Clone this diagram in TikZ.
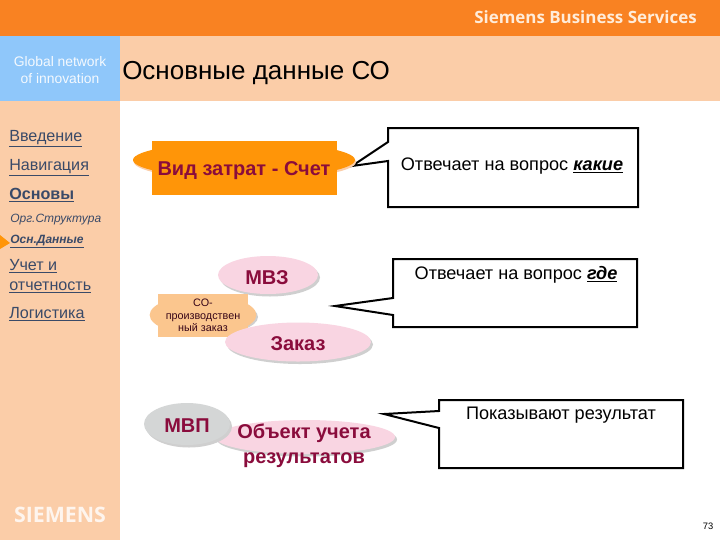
\documentclass[tikz,border=0pt]{standalone}
\usepackage{fontspec}
\setmainfont{Liberation Sans}
\newfontfamily\opensans{Open Sans}
\usetikzlibrary{shapes.geometric}
\definecolor{topor}{HTML}{F98222}
\definecolor{peach}{HTML}{FBCDA8}
\definecolor{bluep}{HTML}{8FC7FA}
\definecolor{orbox}{HTML}{FF9508}
\definecolor{wine}{HTML}{8A0C3C}
\definecolor{pinkf}{HTML}{F9D5E2}
\definecolor{shadowg}{HTML}{CFCFCF}
\definecolor{grayf}{HTML}{D4D6D6}
\definecolor{cofill}{HTML}{FBC68E}
\definecolor{navt}{HTML}{3A4A68}
\tikzset{
  px/.style={x=0.75pt,y=-0.75pt},
  blob/.style={ellipse,inner sep=0pt,draw=none,fill=#1},
  plab/.style={text=wine,font=\fontsize{15}{18}\selectfont\bfseries,inner sep=0pt,align=center},
  nav/.style={anchor=base west,inner sep=0pt,text=navt,font=\fontsize{12.1}{14}\selectfont},
  navsm/.style={anchor=base west,inner sep=0pt,text=navt,font=\fontsize{9}{11}\selectfont\itshape},
  calltxt/.style={inner sep=0pt,text=black,font=\fontsize{13.6}{16}\selectfont},
  callbox/.style={draw=black,line width=1.5pt,fill=white,line join=miter}
}
\newcommand{\ul}[1]{\underline{#1}}
\newcommand{\ublob}[5]{%
  \fill[shadowg] (#1+2,#2+2.5) ellipse [x radius=#3, y radius=#4];
  \node[blob=#5,minimum width=2*0.75pt*#3,minimum height=2*0.75pt*#4] at (#1,#2) {};}
\begin{document}
\begin{tikzpicture}[px]
\useasboundingbox (0,0) rectangle (720,540);
\fill[white] (0,0) rectangle (720,540);
\fill[topor] (0,0) rectangle (720,36);
\fill[peach] (120,36) rectangle (720,101);
\fill[bluep] (0,36) rectangle (120,101);
\fill[peach] (0,101) rectangle (120,540);
\node[anchor=base east,inner sep=0pt,text=white!85!orange,font=\opensans\fontsize{12.7}{14}\selectfont\bfseries] (brand) at (697,23) {Siemens Business Services};
\node[inner sep=0pt,text=white!90!bluep,align=center,font=\fontsize{10.4}{12}\selectfont] (gni) at (60,70) {Global network\\[1pt]of innovation};
\node[anchor=base west,inner sep=0pt,font=\fontsize{19.5}{22}\selectfont] (title) at (122,79) {Основные данные СО};
\node[nav] (n1) at (9,141) {\ul{Введение}};
\node[nav] (n2) at (9,170) {\ul{Навигация}};
\node[nav,font=\fontsize{12.1}{14}\selectfont\bfseries] (n3) at (9,199) {\ul{Основы}};
\node[navsm] (n4) at (10,222) {Орг.Структура};
\node[navsm,font=\fontsize{9}{11}\selectfont\itshape\bfseries] (n5) at (10,243) {\ul{Осн.Данные}};
\fill[orbox] (0,235) -- (10,243) -- (0,249) -- cycle;
\node[nav] (n6) at (9,270) {\ul{Учет и}};
\node[nav] (n7) at (9,290) {\ul{отчетность}};
\node[nav] (n8) at (9,318) {\ul{Логистика}};
\node[anchor=base,inner sep=0pt,text=white!80!peach,font=\opensans\fontsize{16}{18}\selectfont\bfseries] (logo) at (60,522) {SIEMENS};
% callouts
\draw[callbox] (388,128) -- (638,128) -- (638,207) -- (388,207) -- (388,161) -- (352,166) -- (388,142) -- cycle;
\node[calltxt] (c1) at (512,166) {Отвечает на вопрос \textbf{\textit{\ul{какие}}}};
\draw[callbox] (393,259) -- (637,259) -- (637,327) -- (393,327) -- (393,315) -- (335,306) -- (393,298) -- cycle;
\node[calltxt] (c2) at (516,275) {Отвечает на вопрос \textbf{\textit{\ul{где}}}};
\draw[callbox] (439,400) -- (683,400) -- (683,468) -- (439,468) -- (439,428) -- (384,414) -- (439,411) -- cycle;
\node[calltxt] (c3) at (561,415) {Показывают результат};
% orange
\fill[peach] (245,162) ellipse [x radius=111, y radius=18];
\node[blob=orbox,minimum width=166.5pt,minimum height=27pt] (ore) at (244,160) {};
\node[fill=orbox,inner sep=0pt,minimum width=138.75pt,minimum height=40.5pt] (orr) at (244.5,168) {};
\node[plab,font=\fontsize{15}{18}\selectfont\bfseries] (vz) at (244,170.5) {Вид затрат - Счет};
% pink
\ublob{268}{275}{50}{19}{pinkf}
\node[plab] (mvz) at (267,278) {МВЗ};
\fill[shadowg] (205,317) ellipse [x radius=53, y radius=18];
\node[blob=cofill,minimum width=80pt,minimum height=30pt] (coe) at (203,315) {};
\node[fill=cofill,inner sep=0pt,minimum width=68pt,minimum height=32pt] (cor) at (203,315.5) {};
\node[inner sep=0pt,align=center,text=wine!40!black,font=\fontsize{8.1}{9.5}\selectfont] (co) at (203,315.5) {СО-\\производствен\\ный заказ};
\ublob{298}{342}{73}{19.5}{pinkf}
\node[plab] (zak) at (298,343.5) {Заказ};
\ublob{305}{437}{90}{17}{pinkf}
\ublob{187}{424}{43}{21}{grayf}
\node[plab] (mvp) at (187,426) {МВП};
\node[plab,font=\fontsize{15}{19}\selectfont\bfseries] (ob) at (304,445.5) {Объект учета\\результатов};
\node[inner sep=0pt,font=\fontsize{7}{8}\selectfont] (pg) at (708,526) {73};
\end{tikzpicture}
\end{document}
